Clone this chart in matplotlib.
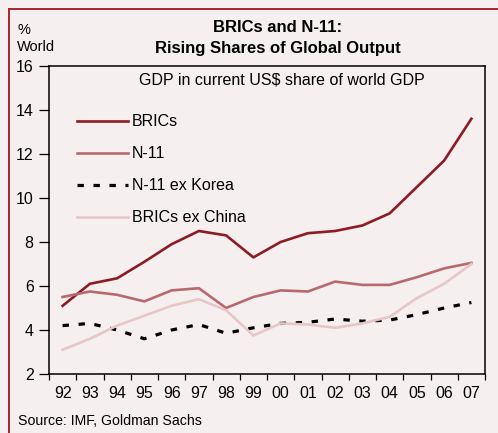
import matplotlib
matplotlib.use("Agg")
import matplotlib.pyplot as plt
from matplotlib.lines import Line2D

plt.rcParams['font.family'] = ['Liberation Sans', 'DejaVu Sans']

years = ["92", "93", "94", "95", "96", "97", "98", "99", "00", "01", "02", "03", "04", "05", "06", "07"]
brics = [5.1, 6.1, 6.35, 7.1, 7.9, 8.5, 8.3, 7.3, 8.0, 8.4, 8.5, 8.75, 9.3, 10.5, 11.7, 13.6]
n11 = [5.5, 5.75, 5.6, 5.3, 5.8, 5.9, 5.0, 5.5, 5.8, 5.75, 6.2, 6.05, 6.05, 6.4, 6.8, 7.05]
n11_ex_korea = [4.2, 4.3, 4.0, 3.6, 4.0, 4.25, 3.85, 4.1, 4.3, 4.35, 4.5, 4.4, 4.45, 4.7, 5.0, 5.25]
brics_ex_china = [3.1, 3.6, 4.2, 4.65, 5.1, 5.4, 4.9, 3.75, 4.3, 4.25, 4.1, 4.3, 4.6, 5.45, 6.1, 7.0]
labels = ["BRICs", "N-11", "N-11 ex Korea", "BRICs ex China"]
yticks = [2, 4, 6, 8, 10, 12, 14, 16]

bg = "#F5EFF0"
c_brics = "#8E1B22"
c_n11 = "#B8696D"
c_exchina = "#E8C6C8"

fig = plt.figure(figsize=(4.98, 4.33), dpi=100, facecolor=bg)
ax = fig.add_axes([49/498, 1 - 374/433, 436/498, 308/433])
ax.set_facecolor(bg)

x = list(range(len(years)))
ax.plot(x, brics, color=c_brics, lw=1.9, label=labels[0], solid_joinstyle='round')
ax.plot(x, n11, color=c_n11, lw=1.9, label=labels[1], solid_joinstyle='round')
ax.plot(x, n11_ex_korea, color="black", lw=2.3, dashes=(2.0, 3.0), label=labels[2])
ax.plot(x, brics_ex_china, color=c_exchina, lw=1.9, label=labels[3], solid_joinstyle='round')

ax.set_xlim(-0.5, len(years) - 0.5)
ax.set_ylim(2, 16)
ax.set_yticks(yticks)
ax.set_yticklabels([str(v) for v in yticks], fontsize=11.5)
ax.tick_params(axis='y', direction='out', length=7, width=0.9, pad=4)

ax.set_xticks([i - 0.5 for i in range(len(years) + 1)])
ax.set_xticklabels([])
ax.tick_params(axis='x', which='major', direction='out', length=4, width=0.9)
ax.set_xticks(x, minor=True)
ax.set_xticklabels(years, minor=True, fontsize=11.5)
ax.tick_params(axis='x', which='minor', length=0, pad=9)

for s in ax.spines.values():
    s.set_linewidth(1.1)
    s.set_color("black")

leg = ax.legend(loc='upper left', bbox_to_anchor=(0.064, 0.843), frameon=False,
                fontsize=11.5, handlelength=3.2, handletextpad=0.25,
                labelspacing=1.06, borderpad=0, borderaxespad=0)

ax.text(0.535, 0.955, "GDP in current US$ share of world GDP", transform=ax.transAxes,
        ha='center', va='center', fontsize=11.5)

fig.text(278/498, 1 - 28/433, "BRICs and N-11:", ha='center', va='center',
         fontsize=12, fontweight='bold')
fig.text(278/498, 1 - 48/433, "Rising Shares of Global Output", ha='center', va='center',
         fontsize=12, fontweight='bold')
fig.text(17/498, 1 - 30/433, "%", ha='left', va='center', fontsize=10.5)
fig.text(17/498, 1 - 47/433, "World", ha='left', va='center', fontsize=10.5)
fig.text(18/498, 1 - 421/433, "Source: IMF, Goldman Sachs", ha='left', va='center', fontsize=10.2)

border = "#A3272E"
fig.add_artist(Line2D([9/498, 1.0], [1 - 9/433, 1 - 9/433], transform=fig.transFigure,
                      color=border, lw=1.4))
fig.add_artist(Line2D([9/498, 9/498], [0.0, 1 - 9/433], transform=fig.transFigure,
                      color=border, lw=1.4))

fig.savefig("out.png", dpi=100, facecolor=bg)
